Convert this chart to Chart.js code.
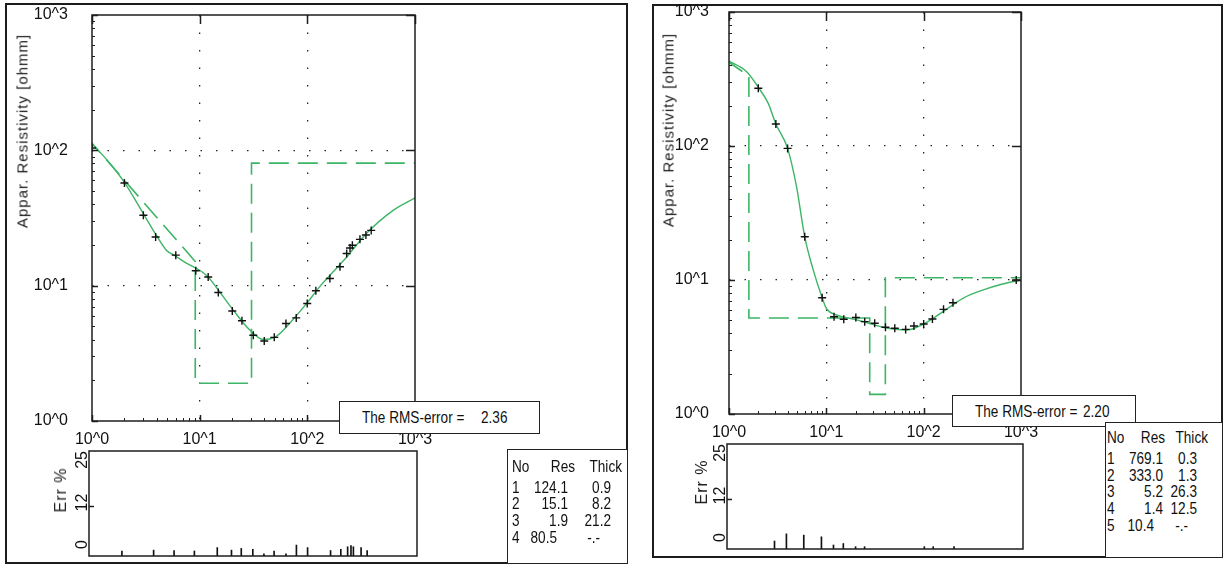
<!DOCTYPE html>
<html>
<head>
<meta charset="utf-8">
<script src="https://cdn.jsdelivr.net/npm/chart.js@4.4.0/dist/chart.umd.min.js"></script>
<style>
  body { margin: 0; width: 1223px; height: 565px; background: #fff; position: relative; overflow: hidden; color: #111; }
  .panel { position: absolute; border: 2px solid #1c1c1c; box-sizing: border-box; }
  canvas { position: absolute; z-index: 1; }
  .box { position: absolute; border: 1.5px solid #222; background: #fff; z-index: 2; box-sizing: border-box; }
  .txt { position: absolute; white-space: nowrap; font: 17px 'Liberation Sans Narrow', 'Liberation Sans', Arial, sans-serif; line-height: 1; }
  .vt { position: absolute; z-index: 2; white-space: nowrap; transform: translate(-50%, -50%) rotate(-90deg);
        font: 15px 'Liberation Sans', Arial, sans-serif; letter-spacing: 1px; line-height: 1; color: #222; }
  .vt.err { font-size: 16px; }
</style>
</head>
<body>
<div class="panel" style="left:5px;top:3px;width:623px;height:561px"></div>
<div class="panel" style="left:652px;top:4px;width:571px;height:554px"></div>

<canvas id="mainL" width="440" height="455" style="left:0;top:0"></canvas>
<canvas id="errL" width="430" height="122" style="left:0;top:440px"></canvas>
<canvas id="mainR" width="400" height="450" style="left:640px;top:0"></canvas>
<canvas id="errR" width="400" height="125" style="left:640px;top:430px"></canvas>

<div class="vt" style="left:22px;top:131px">Appar. Resistivity [ohmm]</div>
<div class="vt" style="left:668px;top:130px">Appar. Resistivity [ohmm]</div>
<div class="vt err" style="left:61px;top:490px">Err %</div>
<div class="vt err" style="left:702px;top:482px">Err %</div>

<div class="box" id="rmsL" style="left:339px;top:401px;width:201px;height:33px"></div>
<div class="box" id="rmsR" style="left:952px;top:395px;width:184px;height:32px"></div>
<div class="box" id="tabL" style="left:507px;top:449px;width:121px;height:115px"></div>
<div class="box" id="tabR" style="left:1105px;top:422px;width:118px;height:136px"></div>

<script>
// axes
const DECADES = [1, 10, 100, 1000];
const DECADE_LABELS = ['10^0', '10^1', '10^2', '10^3'];
const MINOR_STEPS = [2, 3, 4, 5, 6, 7, 8, 9];
const ERR_TICKS = [0, 12, 25];

// left sounding: measured apparent resistivity
const obsL_x = [1.0, 2.0, 3.0, 3.9, 6.0, 9.2, 12.0, 14.9, 20.1, 24.7, 31.5, 39.8, 49.3, 63.3, 78.9, 99.8, 120, 162, 201, 232, 249, 262, 308, 350, 392];
const obsL_y = [104, 57.4, 33.1, 22.9, 16.8, 12.9, 11.6, 8.9, 6.5, 5.5, 4.3, 3.9, 4.15, 5.26, 5.78, 7.39, 9.16, 11.3, 13.8, 17.3, 19.0, 19.9, 22.0, 23.7, 25.6];
// left: calculated curve
const fitL_x = [1, 1.47, 2.0, 3.0, 3.9, 4.9, 6.0, 7.6, 10, 12, 14.3, 20.5, 29.2, 38.9, 51.9, 68.9, 98.6, 130, 173, 232, 354, 626, 1000];
const fitL_y = [112, 80, 58, 34, 24, 18.3, 16.5, 14.6, 13.0, 11.6, 9.7, 6.6, 4.7, 4.0, 4.24, 5.3, 7.4, 9.8, 12.6, 16.3, 24.3, 36, 44.5];
// left: error %
const errL_x = [2.0, 3.9, 6.0, 9.2, 14.9, 20.1, 24.7, 31.5, 39.8, 49.3, 63.3, 78.9, 99.8, 162, 201, 232, 249, 262, 308, 350];
const errL_y = [1.2, 1.4, 1.3, 1.2, 2.0, 1.4, 1.8, 1.6, 0.5, 1.2, 0.5, 2.6, 2.0, 1.3, 1.6, 2.2, 2.5, 2.2, 2.0, 1.3];
// left: layers
const resL = [124.1, 15.1, 1.9, 80.5];
const thickL = [0.9, 8.2, 21.2];
const RMS_L = '2.36';

// right sounding
const obsR_x = [2.0, 3.03, 4.0, 6.0, 9.06, 12.0, 15.1, 20.1, 24.8, 31.4, 40.5, 50.5, 65.3, 79.5, 100, 123, 160, 200, 893];
const obsR_y = [270, 146, 96, 21.0, 7.38, 5.32, 5.09, 5.25, 4.89, 4.75, 4.44, 4.36, 4.28, 4.54, 4.7, 5.12, 6.04, 6.77, 10.0];
const fitR_x = [1, 1.52, 2.0, 2.53, 3.03, 4.0, 4.94, 6.0, 7.33, 9.06, 10, 12.7, 17.4, 23.8, 38.1, 66.5, 100, 157, 253, 403, 647, 1000];
const fitR_y = [430, 358, 274, 208, 146, 96, 49.7, 21.0, 11.9, 7.38, 6.15, 5.48, 5.18, 4.9, 4.44, 4.24, 4.7, 5.79, 7.3, 8.4, 9.33, 10.0];
const errR_x = [3.03, 4.0, 6.0, 9.06, 12.0, 15.1, 20.1, 24.8, 100, 123, 200];
const errR_y = [1.9, 3.6, 3.3, 2.9, 0.95, 1.3, 0.55, 0.55, 0.55, 0.55, 0.55];
const resR = [769.1, 333.0, 5.2, 1.4, 10.4];
const thickR = [0.3, 1.3, 26.3, 12.5];
const RMS_R = '2.20';

const GREEN = '#3db566';
const NARROW = "'Liberation Sans Narrow', 'Liberation Sans', Arial, sans-serif";

const pts = (xs, ys) => xs.map((x, i) => ({ x, y: ys[i] }));

// model polyline as the program draws it, from the layer table
function modelLine(res, thick) {
  const depth = [];
  thick.reduce((s, t) => { depth.push(+(s + t).toFixed(2)); return s + t; }, 0);
  const out = [{ x: depth[0], y: res[0] }, { x: depth[1], y: res[1] }];
  for (let i = 1; i < depth.length; i++) {
    out.push({ x: depth[i], y: res[i + 1] });
    out.push({ x: depth[i + 1] !== undefined ? depth[i + 1] : 1000, y: res[i + 1] });
  }
  return out;
}

function logTicks() {
  const t = [];
  DECADES.forEach((d, i) => {
    t.push(d);
    if (i < DECADES.length - 1) MINOR_STEPS.forEach(m => t.push(d * m));
  });
  return t.map(value => ({ value }));
}
const isInnerDecade = v => v === 10 || v === 100;

const crisp = v => Math.round(v) + 0.5;

const frame = {
  id: 'frame',
  afterDatasetsDraw(chart, args, opts) {
    const { ctx, chartArea: a } = chart;
    ctx.save();
    ctx.strokeStyle = '#1e1e1e';
    if (opts.log) {
      const { x, y } = chart.scales;
      x.ticks.forEach(t => {
        const px = crisp(x.getPixelForValue(t.value));
        const major = DECADES.includes(t.value);
        ctx.lineWidth = major ? 1.5 : 1;
        ctx.beginPath();
        ctx.moveTo(px, a.bottom); ctx.lineTo(px, a.bottom - (major ? 6 : 3));
        if (major) { ctx.moveTo(px, a.top); ctx.lineTo(px, a.top + 9); }
        ctx.stroke();
      });
      y.ticks.forEach(t => {
        const py = crisp(y.getPixelForValue(t.value));
        const major = DECADES.includes(t.value);
        ctx.lineWidth = major ? 1.5 : 1;
        ctx.beginPath();
        ctx.moveTo(a.left, py); ctx.lineTo(a.left + (major ? 6 : 3), py);
        if (major) { ctx.moveTo(a.right, py); ctx.lineTo(a.right - 9, py); }
        ctx.stroke();
      });
    }
    if (opts.err) {
      const y = chart.scales.y;
      ctx.fillStyle = '#111';
      ctx.font = '16px ' + NARROW;
      ctx.textBaseline = 'middle';
      ERR_TICKS.forEach(v => {
        const py = y.getPixelForValue(v);
        ctx.save();
        ctx.translate(a.left - 6, v === 0 ? py - 7 : v === 25 ? py : py - 3);
        ctx.rotate(-Math.PI / 2);
        ctx.textAlign = v === 25 ? 'right' : v === 0 ? 'left' : 'center';
        ctx.fillText(String(v), 0, 0);
        ctx.restore();
      });
      const p12 = crisp(y.getPixelForValue(12));
      ctx.lineWidth = 1.5;
      ctx.beginPath(); ctx.moveTo(a.left, p12); ctx.lineTo(a.left + 5, p12); ctx.stroke();
    }
    ctx.lineWidth = 1.5;
    ctx.strokeRect(Math.round(a.left), Math.round(a.top), Math.round(a.right - a.left), Math.round(a.bottom - a.top));
    ctx.restore();
  }
};

function logAxis(fixSize, pad, horizontal) {
  return {
    type: 'logarithmic', min: 1, max: 1000,
    afterBuildTicks: s => { s.ticks = logTicks(); },
    afterFit: s => {
      if (horizontal) { s.height = fixSize; s.paddingLeft = 0; s.paddingRight = 0; }
      else { s.width = fixSize; s.paddingTop = 0; s.paddingBottom = 0; }
    },
    grid: { drawTicks: false, lineWidth: 1.3, color: c => (c.tick && isInnerDecade(c.tick.value)) ? '#222' : 'rgba(0,0,0,0)' },
    border: { display: false, dash: horizontal ? [1.5, 16] : [1.5, 14] },
    ticks: {
      autoSkip: false, maxRotation: 0, padding: pad, color: '#111',
      font: { family: NARROW, size: 16 },
      callback: v => { const i = DECADES.indexOf(v); return i >= 0 ? DECADE_LABELS[i] : ''; }
    }
  };
}

function mainChart(id, obs, fit, model, lay) {
  return new Chart(document.getElementById(id), {
    type: 'scatter',
    data: {
      datasets: [
        { data: obs, pointStyle: 'cross', pointRadius: 4, pointBorderWidth: 1.4, borderColor: '#111', showLine: false },
        { data: fit, showLine: true, borderColor: GREEN, borderWidth: 1.4, pointRadius: 0, cubicInterpolationMode: 'monotone' },
        { data: model, showLine: true, borderColor: GREEN, borderWidth: 1.6, borderDash: [20, 9], pointRadius: 0, tension: 0 }
      ]
    },
    options: {
      responsive: false, animation: false,
      layout: { padding: lay.padding },
      plugins: { legend: { display: false }, tooltip: { enabled: false }, frame: { log: true } },
      scales: { x: logAxis(lay.xH, 9, true), y: logAxis(lay.yW, lay.yPad, false) }
    },
    plugins: [frame]
  });
}

function errChart(id, xs, ys, padding) {
  return new Chart(document.getElementById(id), {
    type: 'bar',
    data: { datasets: [{ data: pts(xs, ys), backgroundColor: '#111', barThickness: 1, borderWidth: 0 }] },
    options: {
      responsive: false, animation: false,
      layout: { padding },
      plugins: { legend: { display: false }, tooltip: { enabled: false }, frame: { err: true } },
      scales: {
        x: { type: 'logarithmic', min: 1, max: 1000, display: false, offset: false, grid: { offset: false } },
        y: { min: 0, max: 25, display: false }
      }
    },
    plugins: [frame]
  });
}

mainChart('mainL', pts(obsL_x, obsL_y), pts(fitL_x, fitL_y), modelLine(resL, thickL),
  { padding: { left: 0, top: 15, right: 25, bottom: 0 }, xH: 34, yW: 92, yPad: 24 });
mainChart('mainR', pts(obsR_x, obsR_y), pts(fitR_x, fitR_y), modelLine(resR, thickR),
  { padding: { left: 0, top: 12, right: 19, bottom: 0 }, xH: 36, yW: 89, yPad: 20 });
errChart('errL', errL_x, errL_y, { left: 89, top: 11, right: 13, bottom: 6 });
errChart('errR', errR_x, errR_y, { left: 87, top: 14, right: 17, bottom: 6 });

// text boxes (narrowed to look like the condensed program font)
function put(parent, text, x, y, align) {
  const s = document.createElement('span');
  s.className = 'txt';
  s.textContent = text;
  s.style.left = x + 'px';
  s.style.top = y + 'px';
  s.style.transformOrigin = align === 'right' ? 'right center' : 'left center';
  s.style.transform = `translate(${align === 'right' ? '-100%' : '0'}, -50%) scaleX(0.8)`;
  parent.appendChild(s);
}

function rmsBox(id, value, textX, valueX, y) {
  const el = document.getElementById(id);
  put(el, 'The RMS-error =', textX, y, 'left');
  put(el, value, valueX, y, 'left');
}
rmsBox('rmsL', RMS_L, 22, 141, 15);
rmsBox('rmsR', RMS_R, 22, 130, 15);

function layerTable(id, res, thick, g) {
  const el = document.getElementById(id);
  put(el, 'No', g.no, g.head, 'left');
  put(el, 'Res', g.resHead, g.head, 'right');
  put(el, 'Thick', g.thickHead, g.head, 'right');
  res.forEach((r, i) => {
    const y = g.head + g.first + i * g.step;
    const last = i === res.length - 1;
    put(el, String(i + 1), g.no, y, 'left');
    put(el, r.toFixed(1), last ? g.res - g.lastShift : g.res, y, 'right');
    put(el, last ? '-.-' : thick[i].toFixed(1), last ? g.thick - g.lastShift : g.thick, y, 'right');
  });
}
layerTable('tabL', resL, thickL, { no: 4, head: 16, first: 20.5, step: 16.7, resHead: 67, thickHead: 114, res: 60, thick: 103, lastShift: 11 });
layerTable('tabR', resR, thickR, { no: 1, head: 14, first: 21, step: 16.7, resHead: 59, thickHead: 102, res: 57, thick: 91, lastShift: 9 });
</script>
</body>
</html>
